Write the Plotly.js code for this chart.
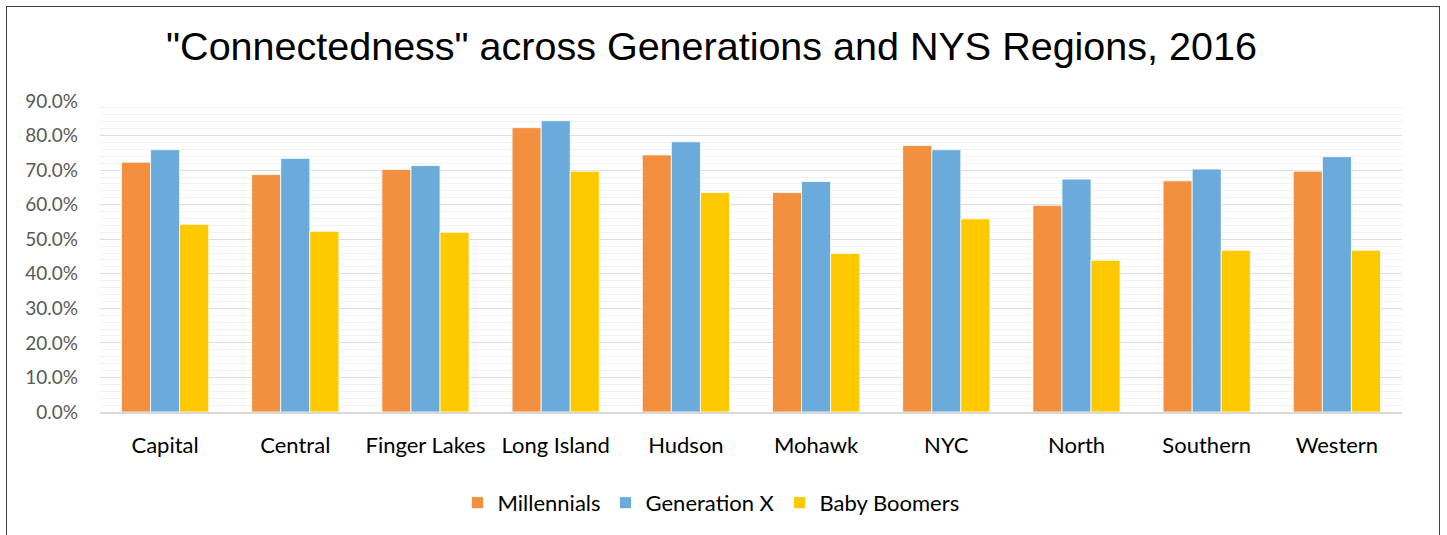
<!DOCTYPE html>
<html>
<head>
<meta charset="utf-8">
<script src="https://cdn.plot.ly/plotly-3.0.1.min.js"></script>
<style>
  html, body { margin: 0; padding: 0; background: #fff; overflow: hidden; }
  #wrap { position: relative; width: 1447px; height: 535px; }
  #chart { position: absolute; left: 0; top: 0; width: 1447px; height: 535px; }
  #frame { position: absolute; left: 6px; top: 6px; width: 1434px; height: 540px;
           border: 1.5px solid #404040; pointer-events: none; box-sizing: border-box; }
</style>
</head>
<body>
<div id="wrap">
  <div id="chart"></div>
  <div id="frame"></div>
</div>
<script>
const regions = ["Capital", "Central", "Finger Lakes", "Long Island", "Hudson",
                 "Mohawk", "NYC", "North", "Southern", "Western"];
const millennials = [0.723, 0.687, 0.702, 0.823, 0.744, 0.635, 0.771, 0.598, 0.669, 0.697];
const generationX = [0.759, 0.734, 0.713, 0.843, 0.782, 0.667, 0.759, 0.674, 0.703, 0.739];
const babyBoomers = [0.543, 0.523, 0.520, 0.697, 0.635, 0.459, 0.559, 0.439, 0.468, 0.468];

const seriesNames = ["Millennials", "Generation X", "Baby Boomers"];
const seriesColors = ["#F2903F", "#6AABDC", "#FFC900"];
const seriesValues = [millennials, generationX, babyBoomers];

const traces = seriesValues.map((vals, i) => ({
  type: "bar",
  name: seriesNames[i],
  x: regions,
  y: vals,
  marker: { color: seriesColors[i], line: { color: "rgba(255,255,255,0.8)", width: 1 } },
  hoverinfo: "x+y+name"
}));

const layout = {
  width: 1447,
  height: 535,
  paper_bgcolor: "#ffffff",
  plot_bgcolor: "#ffffff",
  margin: { l: 100, r: 45, t: 101, b: 122 },
  barmode: "group",
  bargap: 0.33,
  bargroupgap: 0,
  showlegend: true,
  title: {
    text: "\"Connectedness\" across Generations and NYS Regions, 2016",
    font: { family: "Liberation Sans, Arial, sans-serif", size: 39.5, color: "#000000" },
    xref: "container", x: 0.4917, xanchor: "center",
    yref: "container", y: 0.914, yanchor: "middle"
  },
  xaxis: {
    type: "category",
    showgrid: false,
    showline: true,
    linecolor: "#d9d9d9",
    linewidth: 1.5,
    ticks: "",
    ticklabelstandoff: 13,
    tickfont: { family: "Lato, Carlito, sans-serif", size: 22, color: "#000000" },
    zeroline: false
  },
  yaxis: {
    range: [0, 0.9],
    dtick: 0.1,
    tick0: 0,
    tickformat: ".1%",
    showgrid: true,
    gridcolor: "#dcdcdc",
    gridwidth: 1.2,
    zeroline: false,
    showline: false,
    ticks: "",
    ticklabelstandoff: 21,
    tickfont: { family: "Lato, Carlito, sans-serif", size: 19, color: "#595959" },
    minor: { dtick: 0.02, showgrid: true, gridcolor: "#f1f1f1", gridwidth: 1 }
  },
  legend: {
    orientation: "h",
    xref: "paper", x: 0.4693, xanchor: "center",
    yref: "paper", y: -0.288, yanchor: "middle",
    font: { family: "Lato, Carlito, sans-serif", size: 22, color: "#000000" },
    itemwidth: 30,
    tracegroupgap: 0,
    bgcolor: "rgba(0,0,0,0)"
  }
};

Plotly.newPlot("chart", traces, layout, { displayModeBar: false, staticPlot: true });
</script>
</body>
</html>
